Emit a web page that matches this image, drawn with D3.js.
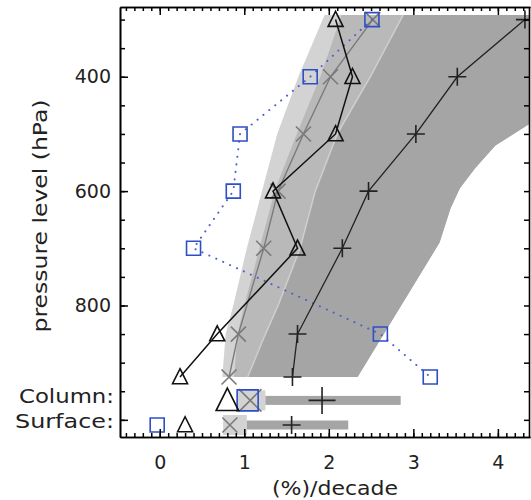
<!DOCTYPE html>
<html>
<head>
<meta charset="utf-8">
<script src="https://cdn.jsdelivr.net/npm/d3@7"></script>
<style>
  body { margin: 0; background: #fff; }
  text { font-family: "DejaVu Sans", sans-serif; fill: #222; }
</style>
</head>
<body>
<div id="chart"></div>
<script>
// pressure levels of the profiles (hPa)
const levels = [300, 400, 500, 600, 700, 850, 925];
const triVals = [2.08, 2.28, 2.08, 1.34, 1.63, 0.68, 0.24];
const crossVals = [2.52, 2.02, 1.70, 1.40, 1.23, 0.93, 0.82];
const squareVals = [2.51, 1.78, 0.95, 0.87, 0.40, 2.61, 3.20];
const plusVals = [4.32, 3.52, 3.03, 2.47, 2.16, 1.63, 1.57];

// column and surface values: triangle, cross, square, plus
const rowNames = ["Column:", "Surface:"];
const rowP = [966, 1009];
const rowTri = [0.80, 0.30];
const rowCross = [1.07, 0.83];
const rowSquare = [1.04, -0.03];
const rowPlus = [1.92, 1.56];
const rowLight = [[0.92, 1.25], [0.75, 1.03]];
const rowDark = [[1.25, 2.85], [1.03, 2.23]];

// shaded ranges
const bandP = [292, 400, 500, 600, 700, 800, 850, 925];
const lightLeft = [1.95, 1.64, 1.39, 1.21, 1.03, 0.87, 0.78, 0.74];
const mediumLeft = [2.15, 1.90, 1.62, 1.36, 1.18, 1.00, 0.92, 0.88];
const darkLeft = [2.88, 2.49, 2.10, 1.84, 1.66, 1.40, 1.25, 1.04];
const rightP = [292, 400, 480, 520, 560, 595, 630, 690, 925];
const rightX = [4.60, 4.55, 4.40, 3.97, 3.73, 3.55, 3.44, 3.31, 2.34];

// axis ticks
const xTicks = [0, 1, 2, 3, 4];
const yTicks = [400, 600, 800, 1000];
const yTickLabels = ["400", "600", "800", ""];

const dims = { width: 531, height: 500, margin: { top: 7, right: 1, bottom: 63, left: 120 } };
dims.w = dims.width - dims.margin.left - dims.margin.right;
dims.h = dims.height - dims.margin.top - dims.margin.bottom;

const svg = d3.select("#chart").append("svg")
  .attr("width", dims.width)
  .attr("height", dims.height);

const g = svg.append("g")
  .attr("transform", `translate(${dims.margin.left},${dims.margin.top})`);

const x = d3.scaleLinear().domain([-0.47, 4.38]).range([0, dims.w]);
const y = d3.scaleLinear().domain([278, 1030]).range([0, dims.h]);

svg.append("defs").append("clipPath").attr("id", "clip")
  .append("rect").attr("width", dims.w).attr("height", dims.h);

const plot = g.append("g").attr("clip-path", "url(#clip)");

// shaded regions
function band(leftVals) {
  const left = bandP.map((p, i) => [x(leftVals[i]), y(p)]);
  const right = rightP.map((p, i) => [x(rightX[i]), y(p)]).reverse();
  return d3.line().curve(d3.curveLinearClosed)(left.concat(right));
}
plot.append("path").attr("d", band(lightLeft)).attr("fill", "#d3d3d3");
plot.append("path").attr("d", band(mediumLeft)).attr("fill", "#b9b9b9");
plot.append("path").attr("d", band(darkLeft)).attr("fill", "#a5a5a5");
plot.append("path")
  .attr("d", d3.line()(bandP.map((p, i) => [x(darkLeft[i]), y(p)])))
  .attr("fill", "none").attr("stroke", "#cfcfcf").attr("stroke-width", 1.5);

// column / surface ranges
rowP.forEach((p, i) => {
  plot.append("rect")
    .attr("x", x(rowLight[i][0])).attr("width", x(rowLight[i][1]) - x(rowLight[i][0]))
    .attr("y", y(p) - 10).attr("height", 20)
    .attr("fill", "#d3d3d3");
  plot.append("rect")
    .attr("x", x(rowDark[i][0])).attr("width", x(rowDark[i][1]) - x(rowDark[i][0]))
    .attr("y", y(p) - 4.5).attr("height", 9)
    .attr("fill", "#a5a5a5");
});

// marker shapes
const shapes = {
  tri: s => `M0,${-s * 0.55}L${s / 2},${s * 0.45}L${-s / 2},${s * 0.45}Z`,
  square: s => `M${-s / 2},${-s / 2}h${s}v${s}h${-s}Z`,
  cross: s => `M${-s / 2},${-s / 2}L${s / 2},${s / 2}M${-s / 2},${s / 2}L${s / 2},${-s / 2}`,
  plus: s => `M${-s / 2},0H${s / 2}M0,${-s / 2}V${s / 2}`,
};

const series = [
  { vals: crossVals, row: rowCross, shape: "cross", color: "#7a7a7a", width: 1.4, dash: null, ms: 15 },
  { vals: squareVals, row: rowSquare, shape: "square", color: "#2c4ec6", width: 2, dash: "0.1,7.5", ms: 14, lineColor: "#4c60cc" },
  { vals: triVals, row: rowTri, shape: "tri", color: "#111", width: 1.5, dash: null, ms: 15 },
  { vals: plusVals, row: rowPlus, shape: "plus", color: "#222", width: 1.3, dash: null, ms: 18 },
];

series.forEach(s => {
  const pts = levels.map((p, i) => [x(s.vals[i]), y(p)]);
  plot.append("path")
    .attr("d", d3.line()(pts))
    .attr("fill", "none")
    .attr("stroke", s.lineColor || s.color)
    .attr("stroke-width", s.width)
    .attr("stroke-linecap", s.dash ? "round" : "butt")
    .attr("stroke-dasharray", s.dash);

  pts.forEach(([px, py]) => {
    plot.append("path")
      .attr("transform", `translate(${px},${py})`)
      .attr("d", shapes[s.shape](s.ms))
      .attr("fill", "none")
      .attr("stroke", s.color)
      .attr("stroke-width", 1.6);
  });

  s.row.forEach((v, i) => {
    const size = i === 0 ? s.ms * 1.5 : s.ms;
    plot.append("path")
      .attr("transform", `translate(${x(v)},${y(rowP[i])})`)
      .attr("d", shapes[s.shape](size))
      .attr("fill", "none")
      .attr("stroke", s.color)
      .attr("stroke-width", 1.6);
  });
});

// axes
const minorX = d3.range(-4, 44).map(d => d / 10);
const minorY = d3.range(300, 1001, 50);

function styleAxis(sel) {
  sel.select(".domain").attr("stroke", "#000").attr("stroke-width", 1.6);
  sel.selectAll(".tick line").attr("stroke", "#000").attr("stroke-width", 1.5);
  sel.selectAll("text").attr("font-size", 19).attr("fill", "#222")
    .attr("font-family", "DejaVu Sans, sans-serif");
}

g.append("g").attr("transform", `translate(0,${dims.h})`)
  .call(d3.axisBottom(x).tickValues(minorX).tickSize(-4).tickSizeOuter(0).tickFormat(""))
  .call(styleAxis);
g.append("g").attr("transform", `translate(0,${dims.h})`)
  .call(d3.axisBottom(x).tickValues(xTicks).tickSize(-8).tickSizeOuter(0).tickPadding(19).tickFormat(d3.format("d")))
  .call(styleAxis);
g.append("g")
  .call(d3.axisTop(x).tickValues(minorX).tickSize(-4).tickSizeOuter(0).tickFormat(""))
  .call(styleAxis);
g.append("g")
  .call(d3.axisTop(x).tickValues(xTicks).tickSize(-8).tickSizeOuter(0).tickFormat(""))
  .call(styleAxis);

g.append("g")
  .call(d3.axisLeft(y).tickValues(minorY).tickSize(-5).tickSizeOuter(0).tickFormat(""))
  .call(styleAxis);
g.append("g")
  .call(d3.axisLeft(y).tickValues(yTicks).tickSize(-8).tickSizeOuter(0).tickPadding(9)
    .tickFormat((d, i) => yTickLabels[i]))
  .call(styleAxis);
g.append("g").attr("transform", `translate(${dims.w - 1},0)`)
  .call(d3.axisRight(y).tickValues(minorY).tickSize(-5).tickSizeOuter(0).tickFormat(""))
  .call(styleAxis);

// column / surface labels
rowNames.forEach((name, i) => {
  g.append("text")
    .attr("x", -6)
    .attr("y", y(rowP[i]) - 4)
    .attr("dy", "0.35em")
    .attr("text-anchor", "end")
    .attr("font-size", 19)
    .attr("textLength", i === 0 ? 95 : 99)
    .attr("lengthAdjust", "spacingAndGlyphs")
    .text(name);
});

// axis titles
svg.append("text")
  .attr("x", 335).attr("y", 495)
  .attr("text-anchor", "middle")
  .attr("font-size", 20)
  .attr("textLength", 126)
  .attr("lengthAdjust", "spacingAndGlyphs")
  .text("(%)/decade");

svg.append("text")
  .attr("transform", "translate(47,216) rotate(-90)")
  .attr("text-anchor", "middle")
  .attr("font-size", 20)
  .attr("textLength", 233)
  .attr("lengthAdjust", "spacingAndGlyphs")
  .text("pressure level (hPa)");
</script>
</body>
</html>
